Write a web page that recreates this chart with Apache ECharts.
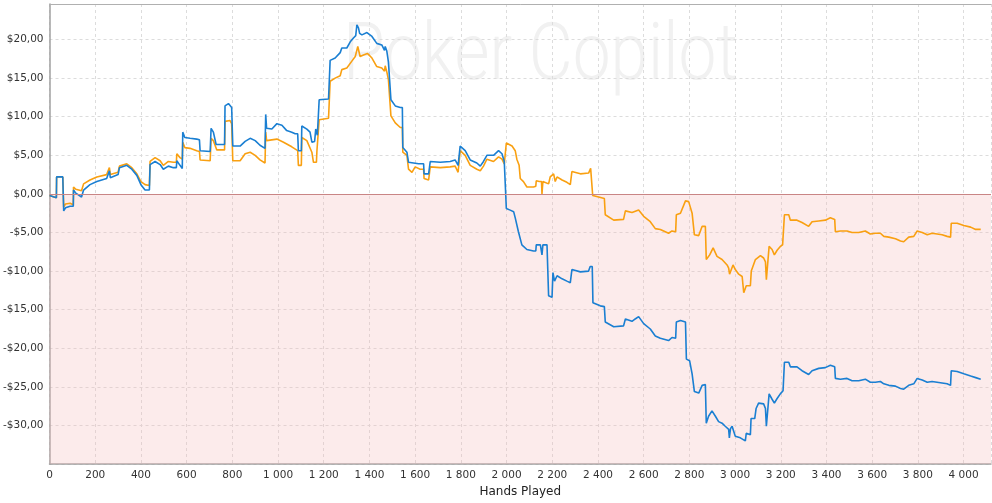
<!DOCTYPE html>
<html>
<head>
<meta charset="utf-8">
<script src="https://cdn.jsdelivr.net/npm/echarts@6/dist/echarts.min.js"></script>
<style>
html,body{margin:0;padding:0;background:#fff;}
#chart{width:992px;height:503px;}
</style>
</head>
<body>
<div id="chart"></div>
<script>
const blueHands = [0,20,30,31,58,62,70,90,104,105,115,140,148,149,177,207,250,258,262,266,300,306,338,360,382,400,418,437,440,462,484,498,520,542,555,557,571,581,583,592,615,644,656,659,703,707,717,729,766,768,783,797,800,802,834,856,878,900,921,943,946,950,973,995,1017,1038,1060,1075,1086,1089,1102,1104,1126,1140,1148,1160,1165,1172,1178,1180,1221,1226,1228,1250,1272,1279,1301,1316,1330,1340,1345,1352,1357,1367,1389,1411,1432,1454,1466,1469,1476,1483,1490,1494,1513,1535,1544,1546,1564,1569,1571,1615,1637,1639,1659,1664,1666,1710,1753,1775,1788,1795,1797,1819,1841,1870,1885,1899,1914,1943,1965,1980,1990,1998,1999,2016,2031,2038,2045,2052,2067,2089,2118,2128,2130,2148,2153,2155,2159,2177,2182,2184,2199,2203,2210,2221,2243,2264,2279,2284,2286,2323,2359,2366,2375,2378,2410,2428,2432,2469,2512,2518,2520,2549,2563,2578,2600,2629,2651,2673,2709,2724,2740,2743,2761,2783,2786,2787,2801,2812,2822,2841,2856,2870,2873,2874,2884,2899,2914,2928,2943,2957,2972,2975,2980,2987,3001,3023,3045,3049,3067,3070,3086,3092,3103,3125,3133,3137,3144,3149,3162,3172,3184,3198,3210,3214,3216,3235,3242,3271,3293,3322,3337,3366,3395,3417,3436,3439,3461,3490,3512,3541,3570,3592,3614,3636,3651,3673,3702,3724,3738,3760,3782,3797,3819,3841,3862,3884,3906,3928,3943,3946,3972,4001,4031,4053,4075];
const blueValues = [-0.2,-0.4,-0.5,2.2,2.2,-2.2,-1.8,-1.6,-1.6,0.5,0.1,-0.4,-0.4,0.5,1.2,1.6,2.0,2.0,3.0,2.1,2.5,3.4,3.7,3.2,2.4,1.2,0.5,0.5,3.8,4.2,3.8,3.2,3.6,3.4,3.4,4.3,3.7,3.3,8.0,7.3,7.2,7.1,7.0,5.6,5.5,8.5,8.0,6.4,6.4,11.4,11.7,11.2,11.2,6.2,6.2,6.8,7.2,6.9,6.3,5.9,10.3,8.5,8.4,9.1,8.9,8.2,8.0,7.8,7.8,5.6,5.6,8.8,8.4,8.0,6.7,6.8,8.4,7.6,7.6,12.2,12.3,12.3,17.3,17.6,18.3,18.9,18.9,19.7,20.2,20.5,21.9,21.5,20.8,20.6,20.9,20.4,19.5,19.3,18.6,19.1,18.5,17.1,17.0,12.2,11.4,11.2,11.2,6.0,5.4,5.3,4.1,3.9,3.9,2.6,2.6,2.6,4.2,4.1,4.2,4.4,3.7,3.7,6.2,5.6,4.4,4.0,3.6,4.2,5.0,5.0,5.6,5.2,4.2,4.1,-1.9,-2.1,-2.3,-3.1,-3.0,-4.9,-6.6,-7.2,-7.4,-7.4,-6.6,-6.6,-6.6,-7.9,-6.6,-6.6,-6.6,-13.2,-13.4,-10.2,-11.3,-10.6,-11.0,-11.3,-11.5,-11.5,-9.8,-10.1,-10.0,-9.4,-9.4,-14.1,-14.5,-14.6,-16.6,-17.2,-17.1,-17.1,-16.2,-16.5,-16.2,-15.9,-16.8,-17.5,-18.4,-18.7,-19.0,-18.6,-18.7,-16.6,-16.4,-16.6,-16.6,-21.4,-21.6,-23.3,-25.6,-25.8,-24.8,-24.7,-24.7,-29.7,-28.8,-28.1,-28.8,-29.5,-29.7,-30.1,-30.5,-31.6,-30.4,-30.1,-31.4,-31.6,-32.0,-31.0,-31.2,-29.1,-29.1,-27.8,-27.1,-27.2,-27.8,-30.1,-30.3,-25.9,-26.6,-27.1,-26.5,-25.9,-25.5,-25.5,-21.8,-21.8,-22.4,-22.4,-22.9,-23.4,-22.9,-22.6,-22.5,-22.2,-22.4,-23.9,-24.0,-23.9,-24.2,-24.2,-24.0,-24.4,-24.4,-24.3,-24.6,-24.8,-24.9,-25.2,-25.3,-24.8,-24.6,-23.9,-24.1,-24.4,-24.3,-24.4,-24.5,-24.6,-24.8,-22.9,-23.0,-23.3,-23.6,-23.8,-24.0];

const orangeHands = [0,20,30,31,58,62,70,90,104,105,115,140,148,149,177,207,250,258,262,266,300,306,338,360,382,400,418,437,440,462,484,498,520,542,555,557,571,581,583,592,615,644,656,659,703,707,717,732,766,768,790,797,800,802,834,856,878,900,921,943,946,950,995,1024,1060,1086,1089,1102,1104,1126,1148,1155,1168,1170,1178,1180,1221,1226,1228,1250,1272,1279,1301,1323,1338,1349,1359,1374,1391,1411,1432,1454,1466,1469,1476,1483,1490,1494,1513,1535,1544,1546,1564,1569,1571,1586,1600,1622,1637,1639,1659,1664,1666,1710,1753,1775,1788,1795,1797,1819,1841,1870,1885,1899,1914,1943,1965,1980,1990,1998,1999,2024,2038,2045,2055,2060,2074,2089,2118,2128,2130,2143,2153,2155,2159,2184,2191,2206,2213,2221,2243,2264,2279,2284,2286,2323,2359,2368,2375,2377,2403,2428,2432,2469,2512,2518,2520,2549,2578,2600,2629,2651,2673,2709,2724,2740,2743,2761,2783,2797,2812,2822,2841,2856,2870,2873,2874,2889,2904,2921,2943,2965,2972,2976,2991,3001,3016,3031,3038,3049,3067,3071,3089,3111,3125,3133,3137,3144,3149,3162,3172,3184,3198,3208,3214,3216,3235,3242,3271,3293,3322,3337,3366,3395,3417,3436,3439,3461,3490,3512,3541,3570,3592,3614,3636,3651,3673,3702,3724,3738,3760,3782,3797,3819,3841,3862,3884,3906,3928,3943,3946,3972,4001,4031,4053,4075];
const orangeValues = [-0.2,-0.4,-0.5,2.2,2.2,-1.7,-1.3,-1.2,-1.4,0.9,0.6,0.4,0.4,1.3,1.8,2.2,2.5,2.5,3.4,2.5,2.8,3.6,3.9,3.4,2.6,1.6,1.2,1.1,4.2,4.7,4.3,3.7,4.2,4.1,4.1,5.2,4.7,4.5,6.7,6.0,5.9,5.6,5.5,4.4,4.3,7.2,6.9,5.7,5.7,9.4,9.5,9.1,9.1,4.3,4.3,5.2,5.4,5.0,4.4,4.0,8.0,6.9,7.1,6.7,6.1,5.6,3.7,3.7,7.3,6.9,5.4,4.1,4.1,5.5,5.5,9.6,9.8,9.8,14.6,15.0,15.3,16.1,16.3,17.2,17.8,19.1,17.8,18.0,18.2,17.6,16.5,16.3,15.9,16.6,15.8,14.8,14.6,10.1,9.2,8.6,8.6,5.4,5.0,4.8,3.2,2.8,3.5,3.2,3.2,2.0,1.8,1.8,3.5,3.4,3.5,3.6,2.8,2.8,5.6,5.0,3.7,3.2,3.0,3.6,4.5,4.2,4.8,4.5,3.9,3.9,6.6,6.2,5.6,4.5,3.7,2.0,1.6,0.9,0.9,1.0,1.7,1.6,1.6,0.0,1.6,1.3,2.2,2.6,1.6,2.2,1.8,1.5,1.2,1.2,2.9,2.6,2.7,3.3,3.5,-0.2,-0.4,-0.6,-2.7,-3.4,-3.3,-3.3,-2.2,-2.4,-2.1,-2.9,-3.6,-4.5,-4.6,-5.1,-4.8,-4.9,-2.7,-2.5,-0.9,-1.0,-2.5,-5.3,-5.4,-4.2,-4.2,-4.3,-8.5,-7.9,-7.0,-8.1,-8.5,-9.2,-9.6,-10.4,-9.2,-9.8,-10.4,-10.7,-12.8,-11.9,-11.9,-10.0,-8.5,-8.0,-8.3,-8.8,-11.1,-11.1,-6.8,-7.2,-7.9,-7.3,-6.8,-6.6,-6.5,-2.7,-2.7,-3.4,-3.4,-3.7,-4.2,-3.6,-3.5,-3.4,-3.1,-3.3,-4.9,-4.8,-4.8,-5.0,-5.0,-4.8,-5.2,-5.1,-5.1,-5.5,-5.6,-5.8,-6.1,-6.2,-5.6,-5.5,-4.8,-5.0,-5.3,-5.1,-5.2,-5.3,-5.5,-5.6,-3.8,-3.8,-4.1,-4.3,-4.6,-4.6];

const yTicks = [-30,-25,-20,-15,-10,-5,0,5,10,15,20];
const xTicks = [0,200,400,600,800,1000,1200,1400,1600,1800,2000,2200,2400,2600,2800,3000,3200,3400,3600,3800,4000];

const pair = (h, v) => h.map((x, i) => [x, v[i]]);
const fmtX = v => String(v).replace(/\B(?=(\d{3})+(?!\d))/g, ' ');
const fmtY = v => (yTicks.indexOf(v) < 0 ? '' : (v < 0 ? '-$' : '$') + Math.abs(v) + ',00');

const chart = echarts.init(document.getElementById('chart'), null, {renderer: 'canvas'});
chart.setOption({
  animation: false,
  backgroundColor: '#ffffff',
  grid: {left: 49.5, right: 1, top: 4, bottom: 36, containLabel: false},
  graphic: [{
    type: 'text', left: 343, top: 19, z: 0, silent: true,
    style: {text: 'Poker Copilot', font: '300 80px Roboto', fill: '#f1f1f1'},
    scaleX: 0.845
  }],
  xAxis: [{
    type: 'value', min: 0, max: 4120, interval: 200,
    name: 'Hands Played', nameLocation: 'middle', nameGap: 20,
    nameTextStyle: {fontFamily: 'DejaVu Sans', fontSize: 12, color: '#222'},
    axisLine: {show: true, onZero: false, lineStyle: {color: '#a0a0a0', width: 1.5}},
    axisTick: {show: false},
    axisLabel: {formatter: fmtX, fontFamily: 'DejaVu Sans', fontSize: 10.5, color: '#333', margin: 6, showMaxLabel: false},
    splitLine: {show: true, lineStyle: {color: '#dcdcdc', type: [3, 3], width: 1}}
  }, {
    type: 'value', position: 'top', min: 0, max: 4120,
    axisLine: {show: true, onZero: false, lineStyle: {color: '#b0b0b0', width: 1}},
    axisTick: {show: false}, axisLabel: {show: false}, splitLine: {show: false}
  }],
  yAxis: {
    type: 'value', min: -35, max: 24.6, interval: 5,
    axisLine: {show: true, onZero: false, lineStyle: {color: '#a0a0a0', width: 1.5}},
    axisTick: {show: false},
    axisLabel: {formatter: fmtY, fontFamily: 'DejaVu Sans', fontSize: 10.5, color: '#333', margin: 6, showMaxLabel: false},
    splitLine: {show: true, lineStyle: {color: '#dcdcdc', type: [3, 3], width: 1}}
  },
  series: [{
    type: 'line', name: 'Orange', data: pair(orangeHands, orangeValues),
    showSymbol: false, symbol: 'none', z: 3,
    lineStyle: {color: '#f9a011', width: 1.6},
    markArea: {silent: true, itemStyle: {color: 'rgba(246,190,190,0.3)'}, data: [[{yAxis: 0}, {yAxis: -35}]], z: 1},
    markLine: {silent: true, symbol: 'none', label: {show: false}, lineStyle: {color: '#c98585', type: 'solid', width: 1.2}, data: [{yAxis: 0}]}
  }, {
    type: 'line', name: 'Blue', data: pair(blueHands, blueValues),
    showSymbol: false, symbol: 'none', z: 4,
    lineStyle: {color: '#1a7fd2', width: 1.6}
  }]
});
</script>
</body>
</html>
